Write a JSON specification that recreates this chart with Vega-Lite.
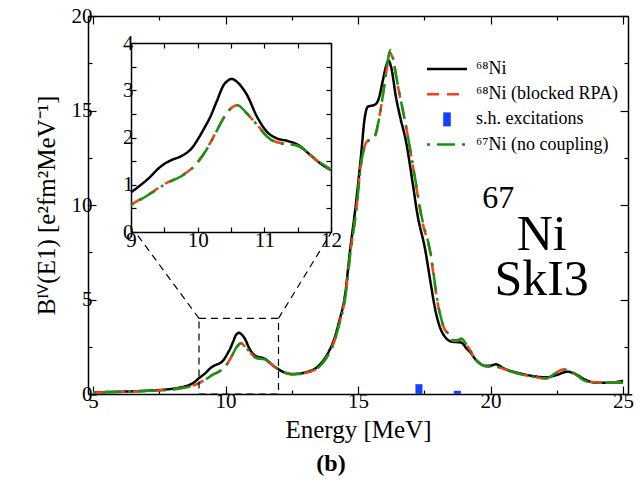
{
  "$schema": "https://vega.github.io/schema/vega-lite/v6.json",
  "width": 540,
  "height": 378,
  "autosize": "none",
  "padding": {"left": 88, "top": 16, "right": 14, "bottom": 98},
  "background": "white",
  "title": {"text": "(b)", "orient": "bottom", "anchor": "middle", "dx": -27, "offset": 10, "fontSize": 24, "fontWeight": "bold", "font": "Liberation Serif", "color": "black"},
  "config": {
    "view": {"stroke": null},
    "font": "Liberation Serif",
    "axis": {
      "grid": false, "domainColor": "black", "domainWidth": 1.5, "tickColor": "black", "tickWidth": 1.2,
      "labelFont": "Liberation Serif", "labelFontSize": 21, "labelColor": "black",
      "titleFont": "Liberation Serif", "titleFontSize": 25, "titleFontWeight": "normal", "titleColor": "black",
      "labelFlush": false, "labelOverlap": false
    }
  },
  "datasets": {
    "curves": [
      {"series": "⁶⁸Ni", "E": 5.0, "B": 0.08}, {"series": "⁶⁸Ni", "E": 5.5, "B": 0.1}, {"series": "⁶⁸Ni", "E": 6.0, "B": 0.12}, {"series": "⁶⁸Ni", "E": 6.5, "B": 0.14},
      {"series": "⁶⁸Ni", "E": 7.0, "B": 0.17}, {"series": "⁶⁸Ni", "E": 7.5, "B": 0.21}, {"series": "⁶⁸Ni", "E": 8.0, "B": 0.28}, {"series": "⁶⁸Ni", "E": 8.3, "B": 0.35},
      {"series": "⁶⁸Ni", "E": 8.6, "B": 0.46}, {"series": "⁶⁸Ni", "E": 8.8, "B": 0.6}, {"series": "⁶⁸Ni", "E": 9.0, "B": 0.84}, {"series": "⁶⁸Ni", "E": 9.15, "B": 1.0},
      {"series": "⁶⁸Ni", "E": 9.29, "B": 1.17}, {"series": "⁶⁸Ni", "E": 9.4, "B": 1.33}, {"series": "⁶⁸Ni", "E": 9.51, "B": 1.45}, {"series": "⁶⁸Ni", "E": 9.62, "B": 1.53},
      {"series": "⁶⁸Ni", "E": 9.73, "B": 1.59}, {"series": "⁶⁸Ni", "E": 9.82, "B": 1.66}, {"series": "⁶⁸Ni", "E": 9.91, "B": 1.77}, {"series": "⁶⁸Ni", "E": 10.01, "B": 1.98},
      {"series": "⁶⁸Ni", "E": 10.1, "B": 2.2}, {"series": "⁶⁸Ni", "E": 10.19, "B": 2.44}, {"series": "⁶⁸Ni", "E": 10.29, "B": 2.78}, {"series": "⁶⁸Ni", "E": 10.39, "B": 3.11},
      {"series": "⁶⁸Ni", "E": 10.45, "B": 3.2}, {"series": "⁶⁸Ni", "E": 10.51, "B": 3.24}, {"series": "⁶⁸Ni", "E": 10.61, "B": 3.15}, {"series": "⁶⁸Ni", "E": 10.74, "B": 2.9},
      {"series": "⁶⁸Ni", "E": 10.89, "B": 2.44}, {"series": "⁶⁸Ni", "E": 11.04, "B": 2.12}, {"series": "⁶⁸Ni", "E": 11.19, "B": 1.98}, {"series": "⁶⁸Ni", "E": 11.34, "B": 1.93},
      {"series": "⁶⁸Ni", "E": 11.51, "B": 1.84}, {"series": "⁶⁸Ni", "E": 11.69, "B": 1.63}, {"series": "⁶⁸Ni", "E": 11.84, "B": 1.45}, {"series": "⁶⁸Ni", "E": 12.0, "B": 1.31},
      {"series": "⁶⁸Ni", "E": 12.2, "B": 1.15}, {"series": "⁶⁸Ni", "E": 12.48, "B": 1.06}, {"series": "⁶⁸Ni", "E": 12.8, "B": 1.08}, {"series": "⁶⁸Ni", "E": 13.1, "B": 1.18},
      {"series": "⁶⁸Ni", "E": 13.4, "B": 1.36}, {"series": "⁶⁸Ni", "E": 13.65, "B": 1.7}, {"series": "⁶⁸Ni", "E": 13.9, "B": 2.25}, {"series": "⁶⁸Ni", "E": 14.1, "B": 2.9},
      {"series": "⁶⁸Ni", "E": 14.27, "B": 3.74}, {"series": "⁶⁸Ni", "E": 14.52, "B": 5.33}, {"series": "⁶⁸Ni", "E": 14.7, "B": 7.6}, {"series": "⁶⁸Ni", "E": 14.9, "B": 9.8},
      {"series": "⁶⁸Ni", "E": 15.1, "B": 12.4}, {"series": "⁶⁸Ni", "E": 15.26, "B": 14.67}, {"series": "⁶⁸Ni", "E": 15.37, "B": 15.2}, {"series": "⁶⁸Ni", "E": 15.5, "B": 15.25},
      {"series": "⁶⁸Ni", "E": 15.62, "B": 15.3}, {"series": "⁶⁸Ni", "E": 15.75, "B": 15.5}, {"series": "⁶⁸Ni", "E": 15.94, "B": 16.6}, {"series": "⁶⁸Ni", "E": 16.05, "B": 17.3},
      {"series": "⁶⁸Ni", "E": 16.15, "B": 17.64}, {"series": "⁶⁸Ni", "E": 16.25, "B": 17.3}, {"series": "⁶⁸Ni", "E": 16.43, "B": 15.73}, {"series": "⁶⁸Ni", "E": 16.6, "B": 14.6},
      {"series": "⁶⁸Ni", "E": 16.8, "B": 13.44}, {"series": "⁶⁸Ni", "E": 17.07, "B": 11.1}, {"series": "⁶⁸Ni", "E": 17.23, "B": 9.6}, {"series": "⁶⁸Ni", "E": 17.54, "B": 7.6},
      {"series": "⁶⁸Ni", "E": 17.75, "B": 5.8}, {"series": "⁶⁸Ni", "E": 17.91, "B": 4.5}, {"series": "⁶⁸Ni", "E": 18.1, "B": 3.5}, {"series": "⁶⁸Ni", "E": 18.28, "B": 3.03},
      {"series": "⁶⁸Ni", "E": 18.53, "B": 2.77}, {"series": "⁶⁸Ni", "E": 18.9, "B": 2.72}, {"series": "⁶⁸Ni", "E": 19.1, "B": 2.4}, {"series": "⁶⁸Ni", "E": 19.27, "B": 2.15},
      {"series": "⁶⁸Ni", "E": 19.4, "B": 1.89}, {"series": "⁶⁸Ni", "E": 19.6, "B": 1.62}, {"series": "⁶⁸Ni", "E": 19.77, "B": 1.5}, {"series": "⁶⁸Ni", "E": 20.0, "B": 1.5},
      {"series": "⁶⁸Ni", "E": 20.2, "B": 1.57}, {"series": "⁶⁸Ni", "E": 20.5, "B": 1.36}, {"series": "⁶⁸Ni", "E": 20.8, "B": 1.2}, {"series": "⁶⁸Ni", "E": 21.12, "B": 1.09},
      {"series": "⁶⁸Ni", "E": 21.4, "B": 1.0}, {"series": "⁶⁸Ni", "E": 21.74, "B": 0.92}, {"series": "⁶⁸Ni", "E": 22.1, "B": 0.88}, {"series": "⁶⁸Ni", "E": 22.48, "B": 1.0},
      {"series": "⁶⁸Ni", "E": 22.9, "B": 1.18}, {"series": "⁶⁸Ni", "E": 23.2, "B": 1.06}, {"series": "⁶⁸Ni", "E": 23.6, "B": 0.74}, {"series": "⁶⁸Ni", "E": 23.96, "B": 0.6},
      {"series": "⁶⁸Ni", "E": 24.45, "B": 0.6}, {"series": "⁶⁸Ni", "E": 25.0, "B": 0.7},

      {"series": "⁶⁸Ni (blocked RPA)", "E": 5.0, "B": 0.08}, {"series": "⁶⁸Ni (blocked RPA)", "E": 5.5, "B": 0.1}, {"series": "⁶⁸Ni (blocked RPA)", "E": 6.0, "B": 0.11}, {"series": "⁶⁸Ni (blocked RPA)", "E": 6.5, "B": 0.13},
      {"series": "⁶⁸Ni (blocked RPA)", "E": 7.0, "B": 0.16}, {"series": "⁶⁸Ni (blocked RPA)", "E": 7.5, "B": 0.19}, {"series": "⁶⁸Ni (blocked RPA)", "E": 8.0, "B": 0.25}, {"series": "⁶⁸Ni (blocked RPA)", "E": 8.3, "B": 0.3},
      {"series": "⁶⁸Ni (blocked RPA)", "E": 8.65, "B": 0.4}, {"series": "⁶⁸Ni (blocked RPA)", "E": 9.0, "B": 0.58}, {"series": "⁶⁸Ni (blocked RPA)", "E": 9.29, "B": 0.82}, {"series": "⁶⁸Ni (blocked RPA)", "E": 9.51, "B": 1.02},
      {"series": "⁶⁸Ni (blocked RPA)", "E": 9.74, "B": 1.18}, {"series": "⁶⁸Ni (blocked RPA)", "E": 9.89, "B": 1.32}, {"series": "⁶⁸Ni (blocked RPA)", "E": 10.01, "B": 1.5}, {"series": "⁶⁸Ni (blocked RPA)", "E": 10.19, "B": 1.89},
      {"series": "⁶⁸Ni (blocked RPA)", "E": 10.29, "B": 2.16}, {"series": "⁶⁸Ni (blocked RPA)", "E": 10.39, "B": 2.42}, {"series": "⁶⁸Ni (blocked RPA)", "E": 10.54, "B": 2.66}, {"series": "⁶⁸Ni (blocked RPA)", "E": 10.59, "B": 2.68},
      {"series": "⁶⁸Ni (blocked RPA)", "E": 10.74, "B": 2.5}, {"series": "⁶⁸Ni (blocked RPA)", "E": 10.89, "B": 2.27}, {"series": "⁶⁸Ni (blocked RPA)", "E": 11.04, "B": 2.03}, {"series": "⁶⁸Ni (blocked RPA)", "E": 11.19, "B": 1.9},
      {"series": "⁶⁸Ni (blocked RPA)", "E": 11.34, "B": 1.87}, {"series": "⁶⁸Ni (blocked RPA)", "E": 11.51, "B": 1.82}, {"series": "⁶⁸Ni (blocked RPA)", "E": 11.69, "B": 1.62}, {"series": "⁶⁸Ni (blocked RPA)", "E": 11.84, "B": 1.46},
      {"series": "⁶⁸Ni (blocked RPA)", "E": 12.0, "B": 1.32}, {"series": "⁶⁸Ni (blocked RPA)", "E": 12.2, "B": 1.16}, {"series": "⁶⁸Ni (blocked RPA)", "E": 12.48, "B": 1.05}, {"series": "⁶⁸Ni (blocked RPA)", "E": 12.8, "B": 1.06},
      {"series": "⁶⁸Ni (blocked RPA)", "E": 13.1, "B": 1.15}, {"series": "⁶⁸Ni (blocked RPA)", "E": 13.4, "B": 1.3}, {"series": "⁶⁸Ni (blocked RPA)", "E": 13.65, "B": 1.62}, {"series": "⁶⁸Ni (blocked RPA)", "E": 13.9, "B": 2.15},
      {"series": "⁶⁸Ni (blocked RPA)", "E": 14.1, "B": 2.75}, {"series": "⁶⁸Ni (blocked RPA)", "E": 14.27, "B": 3.6}, {"series": "⁶⁸Ni (blocked RPA)", "E": 14.52, "B": 5.15}, {"series": "⁶⁸Ni (blocked RPA)", "E": 14.7, "B": 7.35},
      {"series": "⁶⁸Ni (blocked RPA)", "E": 14.95, "B": 9.95}, {"series": "⁶⁸Ni (blocked RPA)", "E": 15.1, "B": 12.05}, {"series": "⁶⁸Ni (blocked RPA)", "E": 15.26, "B": 13.15}, {"series": "⁶⁸Ni (blocked RPA)", "E": 15.4, "B": 13.45},
      {"series": "⁶⁸Ni (blocked RPA)", "E": 15.5, "B": 13.5}, {"series": "⁶⁸Ni (blocked RPA)", "E": 15.63, "B": 13.65}, {"series": "⁶⁸Ni (blocked RPA)", "E": 15.81, "B": 14.7}, {"series": "⁶⁸Ni (blocked RPA)", "E": 16.0, "B": 16.4},
      {"series": "⁶⁸Ni (blocked RPA)", "E": 16.12, "B": 17.5}, {"series": "⁶⁸Ni (blocked RPA)", "E": 16.2, "B": 18.1}, {"series": "⁶⁸Ni (blocked RPA)", "E": 16.3, "B": 17.8}, {"series": "⁶⁸Ni (blocked RPA)", "E": 16.49, "B": 16.4},
      {"series": "⁶⁸Ni (blocked RPA)", "E": 16.86, "B": 13.8}, {"series": "⁶⁸Ni (blocked RPA)", "E": 17.17, "B": 11.2}, {"series": "⁶⁸Ni (blocked RPA)", "E": 17.4, "B": 9.3}, {"series": "⁶⁸Ni (blocked RPA)", "E": 17.72, "B": 7.5},
      {"series": "⁶⁸Ni (blocked RPA)", "E": 18.04, "B": 4.55}, {"series": "⁶⁸Ni (blocked RPA)", "E": 18.2, "B": 3.65}, {"series": "⁶⁸Ni (blocked RPA)", "E": 18.4, "B": 3.15}, {"series": "⁶⁸Ni (blocked RPA)", "E": 18.6, "B": 2.82},
      {"series": "⁶⁸Ni (blocked RPA)", "E": 18.75, "B": 2.82}, {"series": "⁶⁸Ni (blocked RPA)", "E": 18.9, "B": 2.9}, {"series": "⁶⁸Ni (blocked RPA)", "E": 19.1, "B": 2.58}, {"series": "⁶⁸Ni (blocked RPA)", "E": 19.27, "B": 2.22},
      {"series": "⁶⁸Ni (blocked RPA)", "E": 19.4, "B": 1.88}, {"series": "⁶⁸Ni (blocked RPA)", "E": 19.6, "B": 1.6}, {"series": "⁶⁸Ni (blocked RPA)", "E": 19.9, "B": 1.44}, {"series": "⁶⁸Ni (blocked RPA)", "E": 20.2, "B": 1.44},
      {"series": "⁶⁸Ni (blocked RPA)", "E": 20.5, "B": 1.32}, {"series": "⁶⁸Ni (blocked RPA)", "E": 20.8, "B": 1.18}, {"series": "⁶⁸Ni (blocked RPA)", "E": 21.12, "B": 1.05}, {"series": "⁶⁸Ni (blocked RPA)", "E": 21.4, "B": 0.97},
      {"series": "⁶⁸Ni (blocked RPA)", "E": 21.74, "B": 0.88}, {"series": "⁶⁸Ni (blocked RPA)", "E": 22.1, "B": 0.83}, {"series": "⁶⁸Ni (blocked RPA)", "E": 22.4, "B": 1.05}, {"series": "⁶⁸Ni (blocked RPA)", "E": 22.73, "B": 1.3},
      {"series": "⁶⁸Ni (blocked RPA)", "E": 22.98, "B": 1.24}, {"series": "⁶⁸Ni (blocked RPA)", "E": 23.3, "B": 0.95}, {"series": "⁶⁸Ni (blocked RPA)", "E": 23.6, "B": 0.68}, {"series": "⁶⁸Ni (blocked RPA)", "E": 24.2, "B": 0.6},
      {"series": "⁶⁸Ni (blocked RPA)", "E": 25.0, "B": 0.62},

      {"series": "⁶⁷Ni (no coupling)", "E": 5.0, "B": 0.08}, {"series": "⁶⁷Ni (no coupling)", "E": 5.5, "B": 0.1}, {"series": "⁶⁷Ni (no coupling)", "E": 6.0, "B": 0.11}, {"series": "⁶⁷Ni (no coupling)", "E": 6.5, "B": 0.13},
      {"series": "⁶⁷Ni (no coupling)", "E": 7.0, "B": 0.16}, {"series": "⁶⁷Ni (no coupling)", "E": 7.5, "B": 0.19}, {"series": "⁶⁷Ni (no coupling)", "E": 8.0, "B": 0.24}, {"series": "⁶⁷Ni (no coupling)", "E": 8.3, "B": 0.3},
      {"series": "⁶⁷Ni (no coupling)", "E": 8.65, "B": 0.39}, {"series": "⁶⁷Ni (no coupling)", "E": 9.0, "B": 0.57}, {"series": "⁶⁷Ni (no coupling)", "E": 9.29, "B": 0.81}, {"series": "⁶⁷Ni (no coupling)", "E": 9.51, "B": 1.01},
      {"series": "⁶⁷Ni (no coupling)", "E": 9.74, "B": 1.17}, {"series": "⁶⁷Ni (no coupling)", "E": 9.89, "B": 1.31}, {"series": "⁶⁷Ni (no coupling)", "E": 10.01, "B": 1.49}, {"series": "⁶⁷Ni (no coupling)", "E": 10.19, "B": 1.88},
      {"series": "⁶⁷Ni (no coupling)", "E": 10.29, "B": 2.15}, {"series": "⁶⁷Ni (no coupling)", "E": 10.39, "B": 2.41}, {"series": "⁶⁷Ni (no coupling)", "E": 10.54, "B": 2.67}, {"series": "⁶⁷Ni (no coupling)", "E": 10.59, "B": 2.69},
      {"series": "⁶⁷Ni (no coupling)", "E": 10.74, "B": 2.51}, {"series": "⁶⁷Ni (no coupling)", "E": 10.89, "B": 2.27}, {"series": "⁶⁷Ni (no coupling)", "E": 11.04, "B": 2.02}, {"series": "⁶⁷Ni (no coupling)", "E": 11.19, "B": 1.89},
      {"series": "⁶⁷Ni (no coupling)", "E": 11.34, "B": 1.86}, {"series": "⁶⁷Ni (no coupling)", "E": 11.51, "B": 1.82}, {"series": "⁶⁷Ni (no coupling)", "E": 11.69, "B": 1.63}, {"series": "⁶⁷Ni (no coupling)", "E": 11.84, "B": 1.47},
      {"series": "⁶⁷Ni (no coupling)", "E": 12.0, "B": 1.32}, {"series": "⁶⁷Ni (no coupling)", "E": 12.2, "B": 1.16}, {"series": "⁶⁷Ni (no coupling)", "E": 12.48, "B": 1.05}, {"series": "⁶⁷Ni (no coupling)", "E": 12.8, "B": 1.06},
      {"series": "⁶⁷Ni (no coupling)", "E": 13.1, "B": 1.15}, {"series": "⁶⁷Ni (no coupling)", "E": 13.4, "B": 1.3}, {"series": "⁶⁷Ni (no coupling)", "E": 13.65, "B": 1.6}, {"series": "⁶⁷Ni (no coupling)", "E": 13.9, "B": 2.12},
      {"series": "⁶⁷Ni (no coupling)", "E": 14.1, "B": 2.72}, {"series": "⁶⁷Ni (no coupling)", "E": 14.27, "B": 3.58}, {"series": "⁶⁷Ni (no coupling)", "E": 14.52, "B": 5.1}, {"series": "⁶⁷Ni (no coupling)", "E": 14.7, "B": 7.3},
      {"series": "⁶⁷Ni (no coupling)", "E": 14.95, "B": 9.9}, {"series": "⁶⁷Ni (no coupling)", "E": 15.1, "B": 12.0}, {"series": "⁶⁷Ni (no coupling)", "E": 15.26, "B": 13.1}, {"series": "⁶⁷Ni (no coupling)", "E": 15.4, "B": 13.4},
      {"series": "⁶⁷Ni (no coupling)", "E": 15.5, "B": 13.45}, {"series": "⁶⁷Ni (no coupling)", "E": 15.63, "B": 13.6}, {"series": "⁶⁷Ni (no coupling)", "E": 15.81, "B": 14.67}, {"series": "⁶⁷Ni (no coupling)", "E": 16.0, "B": 16.4},
      {"series": "⁶⁷Ni (no coupling)", "E": 16.12, "B": 17.6}, {"series": "⁶⁷Ni (no coupling)", "E": 16.22, "B": 18.2}, {"series": "⁶⁷Ni (no coupling)", "E": 16.3, "B": 17.9}, {"series": "⁶⁷Ni (no coupling)", "E": 16.49, "B": 16.44},
      {"series": "⁶⁷Ni (no coupling)", "E": 16.86, "B": 13.8}, {"series": "⁶⁷Ni (no coupling)", "E": 17.17, "B": 11.3}, {"series": "⁶⁷Ni (no coupling)", "E": 17.4, "B": 9.4}, {"series": "⁶⁷Ni (no coupling)", "E": 17.72, "B": 7.6},
      {"series": "⁶⁷Ni (no coupling)", "E": 18.04, "B": 4.6}, {"series": "⁶⁷Ni (no coupling)", "E": 18.2, "B": 3.7}, {"series": "⁶⁷Ni (no coupling)", "E": 18.4, "B": 3.2}, {"series": "⁶⁷Ni (no coupling)", "E": 18.6, "B": 2.85},
      {"series": "⁶⁷Ni (no coupling)", "E": 18.75, "B": 2.85}, {"series": "⁶⁷Ni (no coupling)", "E": 18.9, "B": 2.94}, {"series": "⁶⁷Ni (no coupling)", "E": 19.1, "B": 2.6}, {"series": "⁶⁷Ni (no coupling)", "E": 19.27, "B": 2.24},
      {"series": "⁶⁷Ni (no coupling)", "E": 19.4, "B": 1.9}, {"series": "⁶⁷Ni (no coupling)", "E": 19.6, "B": 1.6}, {"series": "⁶⁷Ni (no coupling)", "E": 19.9, "B": 1.45}, {"series": "⁶⁷Ni (no coupling)", "E": 20.2, "B": 1.45},
      {"series": "⁶⁷Ni (no coupling)", "E": 20.5, "B": 1.32}, {"series": "⁶⁷Ni (no coupling)", "E": 20.8, "B": 1.18}, {"series": "⁶⁷Ni (no coupling)", "E": 21.12, "B": 1.05}, {"series": "⁶⁷Ni (no coupling)", "E": 21.4, "B": 0.97},
      {"series": "⁶⁷Ni (no coupling)", "E": 21.74, "B": 0.88}, {"series": "⁶⁷Ni (no coupling)", "E": 22.1, "B": 0.82}, {"series": "⁶⁷Ni (no coupling)", "E": 22.4, "B": 1.05}, {"series": "⁶⁷Ni (no coupling)", "E": 22.73, "B": 1.3},
      {"series": "⁶⁷Ni (no coupling)", "E": 22.98, "B": 1.24}, {"series": "⁶⁷Ni (no coupling)", "E": 23.3, "B": 0.95}, {"series": "⁶⁷Ni (no coupling)", "E": 23.6, "B": 0.67}, {"series": "⁶⁷Ni (no coupling)", "E": 24.2, "B": 0.6},
      {"series": "⁶⁷Ni (no coupling)", "E": 25.0, "B": 0.6}
    ],
    "excitations": [
      {"series": "s.h. excitations", "E": 17.3, "B": 0.52},
      {"series": "s.h. excitations", "E": 18.75, "B": 0.17}
    ],
    "zoomWindow": [{"E0": 9, "E1": 12, "B0": 0, "B1": 4}],
    "zoomLinks": [
      {"E0": 9, "B0": 4, "E1": 6.593, "B1": 8.571},
      {"E0": 12, "B0": 4, "E1": 14.0, "B1": 8.571}
    ],
    "nucleus": [{"text": "Ni", "E": 21.93, "B": 7.62}, {"text": "SkI3", "E": 21.93, "B": 5.24}],
    "massNumber": [{"text": "67", "E": 20.9, "B": 9.84}]
  },
  "layer": [
    {
      "layer": [
        {
          "data": {"name": "curves"},
          "mark": {"type": "line", "strokeWidth": 2.5, "interpolate": "monotone"},
          "encoding": {
            "x": {"field": "E", "type": "quantitative", "scale": {"domain": [5, 25], "nice": false},
              "axis": {"orient": "bottom", "values": [5, 7.5, 10, 12.5, 15, 17.5, 20, 22.5, 25],
                "labelExpr": "datum.value % 5 === 0 ? format(datum.value, 'd') : ''",
                "tickSize": {"condition": {"test": "datum.value % 5 === 0", "value": -8}, "value": -4},
                "labelPadding": 4, "title": "Energy [MeV]", "titlePadding": 2}},
            "y": {"field": "B", "type": "quantitative", "scale": {"domain": [0, 20], "nice": false},
              "axis": {"orient": "left", "values": [0, 2.5, 5, 7.5, 10, 12.5, 15, 17.5, 20],
                "labelExpr": "datum.value % 5 === 0 ? format(datum.value, 'd') : ''",
                "tickSize": {"condition": {"test": "datum.value % 5 === 0", "value": -8}, "value": -4},
                "labelPadding": 4, "title": "Bᴵⱽ(E1) [e²fm²MeV⁻¹]", "titlePadding": 12}},
            "color": {"field": "series", "type": "nominal",
              "scale": {"domain": ["⁶⁸Ni", "⁶⁸Ni (blocked RPA)", "s.h. excitations", "⁶⁷Ni (no coupling)"], "range": ["#000000", "#ff3b1a", "#1440ff", "#139413"]},
              "legend": {"orient": "none", "legendX": 350, "legendY": 44, "title": null, "padding": 0,
                "symbolType": "stroke", "symbolSize": 1600, "symbolStrokeWidth": 2.5,
                "labelFont": "Liberation Serif", "labelFontSize": 18, "labelColor": "black", "labelOffset": 20, "labelLimit": 300,
                "rowPadding": 7.2,
                "encode": {"symbols": {"update": {
                  "shape": {"signal": "datum.value === 's.h. excitations' ? 'M-0.19,-0.35H0.19V0.35H-0.19Z' : 'stroke'"},
                  "fill": {"signal": "datum.value === 's.h. excitations' ? '#1440ff' : 'transparent'"},
                  "strokeWidth": {"signal": "datum.value === 's.h. excitations' ? 0 : 2.5"}}}}}},
            "strokeDash": {"field": "series", "type": "nominal",
              "scale": {"domain": ["⁶⁸Ni", "⁶⁸Ni (blocked RPA)", "s.h. excitations", "⁶⁷Ni (no coupling)"], "range": [[1, 0], [12, 8], [1, 0], [3, 7, 18, 7]]},
              "legend": {"orient": "none", "legendX": 350, "legendY": 44, "title": null}},
            "order": {"field": "E", "type": "quantitative"}
          }
        },
        {
          "data": {"name": "excitations"},
          "mark": {"type": "bar", "size": 7},
          "encoding": {
            "x": {"field": "E", "type": "quantitative",
              "axis": {"orient": "top", "values": [5, 7.5, 10, 12.5, 15, 17.5, 20, 22.5, 25], "labels": false, "title": null,
                "tickSize": {"condition": {"test": "datum.value % 5 === 0", "value": -8}, "value": -4}}},
            "y": {"field": "B", "type": "quantitative",
              "axis": {"orient": "right", "values": [0, 2.5, 5, 7.5, 10, 12.5, 15, 17.5, 20], "labels": false, "title": null,
                "tickSize": {"condition": {"test": "datum.value % 5 === 0", "value": -8}, "value": -4}}},
            "color": {"field": "series", "type": "nominal", "legend": null}
          }
        },
        {
          "data": {"name": "zoomWindow"},
          "mark": {"type": "rect", "fill": null, "stroke": "black", "strokeWidth": 1.2, "strokeDash": [7, 5]},
          "encoding": {
            "x": {"field": "E0", "type": "quantitative", "axis": null}, "x2": {"field": "E1"},
            "y": {"field": "B0", "type": "quantitative", "axis": null}, "y2": {"field": "B1"}
          }
        },
        {
          "data": {"name": "zoomLinks"},
          "mark": {"type": "rule", "stroke": "black", "strokeWidth": 1.2, "strokeDash": [7, 5]},
          "encoding": {
            "x": {"field": "E0", "type": "quantitative", "axis": null}, "x2": {"field": "E1"},
            "y": {"field": "B0", "type": "quantitative", "axis": null}, "y2": {"field": "B1"}
          }
        },
        {
          "data": {"name": "nucleus"},
          "mark": {"type": "text", "font": "Liberation Serif", "fontSize": 50, "align": "center", "baseline": "alphabetic", "color": "black"},
          "encoding": {
            "x": {"field": "E", "type": "quantitative", "axis": null},
            "y": {"field": "B", "type": "quantitative", "axis": null},
            "text": {"field": "text"}
          }
        },
        {
          "data": {"name": "massNumber"},
          "mark": {"type": "text", "font": "Liberation Serif", "fontSize": 32, "align": "right", "baseline": "alphabetic", "color": "black"},
          "encoding": {
            "x": {"field": "E", "type": "quantitative", "axis": null},
            "y": {"field": "B", "type": "quantitative", "axis": null},
            "text": {"field": "text"}
          }
        }
      ],
      "resolve": {"axis": {"x": "independent", "y": "independent"}}
    },
    {
      "data": {"name": "curves"},
      "transform": [{"filter": "datum.E >= 9 && datum.E <= 12"}],
      "layer": [
        {
          "mark": {"type": "line", "strokeWidth": 2.5, "interpolate": "monotone"},
          "encoding": {
            "x": {"field": "E", "type": "quantitative", "scale": {"domain": [9, 12], "range": [43, 243], "nice": false},
              "axis": {"orient": "bottom", "offset": -162, "values": [9, 9.5, 10, 10.5, 11, 11.5, 12],
                "labelExpr": "datum.value % 1 === 0 ? format(datum.value, 'd') : ''", "tickSize": -5, "labelPadding": 2, "title": null}},
            "y": {"field": "B", "type": "quantitative", "scale": {"domain": [0, 4], "range": [216, 27], "nice": false},
              "axis": {"orient": "left", "offset": -43, "values": [0, 0.5, 1, 1.5, 2, 2.5, 3, 3.5, 4],
                "labelExpr": "datum.value % 1 === 0 ? format(datum.value, 'd') : ''", "tickSize": -5, "labelPadding": 3, "title": null}},
            "color": {"field": "series", "type": "nominal", "legend": null},
            "strokeDash": {"field": "series", "type": "nominal", "legend": null},
            "order": {"field": "E", "type": "quantitative"}
          }
        },
        {
          "mark": {"type": "line", "strokeOpacity": 0},
          "encoding": {
            "x": {"field": "E", "type": "quantitative",
              "axis": {"orient": "top", "offset": -27, "values": [9, 9.5, 10, 10.5, 11, 11.5, 12], "labels": false, "tickSize": -5, "title": null}},
            "y": {"field": "B", "type": "quantitative",
              "axis": {"orient": "right", "offset": -297, "values": [0, 0.5, 1, 1.5, 2, 2.5, 3, 3.5, 4], "labels": false, "tickSize": -5, "title": null}},
            "detail": {"field": "series"}
          }
        }
      ],
      "resolve": {"axis": {"x": "independent", "y": "independent"}}
    }
  ],
  "resolve": {"scale": {"x": "independent", "y": "independent"}}
}
